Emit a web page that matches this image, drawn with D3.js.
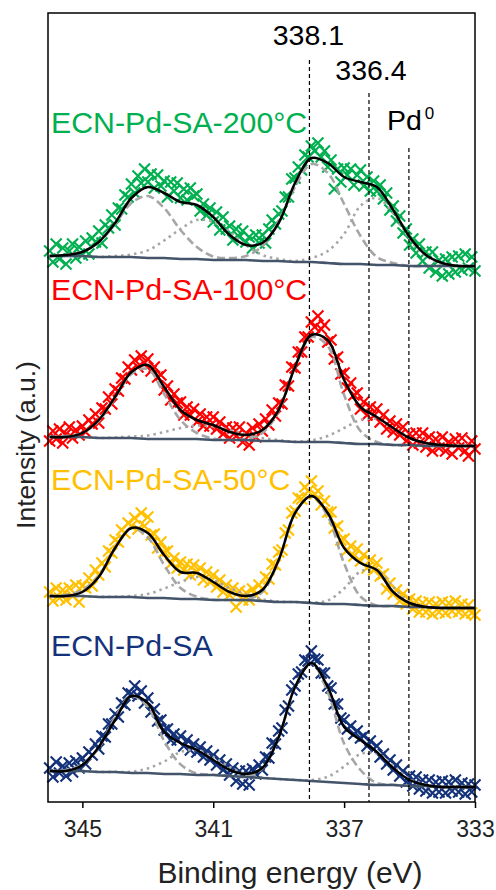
<!DOCTYPE html>
<html>
<head>
<meta charset="utf-8">
<script src="https://cdn.jsdelivr.net/npm/d3@7"></script>
<style>
body { margin: 0; background: #fff; }
text { font-family: "Liberation Sans", Arial, sans-serif; }
</style>
</head>
<body>
<script>
// sample names, top to bottom
var samples = ["ECN-Pd-SA-200°C", "ECN-Pd-SA-100°C", "ECN-Pd-SA-50°C", "ECN-Pd-SA"];

// raw spectra are sampled every 0.1 eV from 346 down to 333 eV
var rawStart = 346, rawStep = 0.1, rawCount = 131;

// energies (eV) of the fitted curves
var fitEnergy = [346, 345.5, 345, 344.5, 344, 343.5, 343, 342.5, 342, 341.5, 341, 340.5, 340,
                 339.5, 339, 338.5, 338, 337.5, 337, 336.5, 336, 335.5, 335, 334.5, 334, 333.5, 333];

// reference lines (eV) and their labels
var refEnergy = [338.06, 336.24, 335.02];
var refLabel = ["338.1", "336.4", "Pd"];

var xTicks = [345, 341, 337, 333];

// raw counts (a.u., stacked with offsets)
var raw200 = [551,540,558,543,554, 538,551,558,544,555, 547,561,548,564,560, 571,559,577,574,587,
  577,594,593,607,605, 618,609,626,619,633, 620,628,614,627,616, 621,605,620,611,619,
  604,613,602,614,606, 608,591,598,587,594, 580,590,572,585,573, 576,562,573,565,571,
  560,565,554,567,559, 567,559,573,582,578, 588,591,605,605,623, 624,635,632,647,645,
  656,651,659,645,651, 635,642,613,633,620, 634,627,633,617,627, 632,616,625,611,621,
  611,617,603,609,592, 596,581,586,569,573, 557,563,549,558,541, 550,534,550,530,542,
  526,543,528,545,530, 546,532,548,534,545, 531];
var raw100 = [361,371,363,373,359, 368,375,364,372,367, 376,370,382,378,388, 379,394,393,405,398,
  413,411,424,423,435, 432,442,435,446,439, 443,431,435,425,427, 412,416,402,408,399,
  400,387,395,387,393, 380,388,376,385,376, 385,373,380,368,375, 364,374,366,375,360,
  369,357,374,365,378, 371,383,377,392,386, 399,398,417,416,435, 434,450,450,465,465,
  480,475,486,473,477, 460,462,443,445,428, 429,414,419,407,409, 393,400,387,395,386,
  393,380,387,373,381, 370,378,367,375,361, 368,357,369,359,369, 355,365,351,363,354,
  365,351,360,348,363, 354,364,351,346,361, 353];
var raw50 = [210,201,214,204,212, 202,214,206,217,200, 216,214,224,216,232, 227,239,235,251,249,
  262,260,272,269,279, 276,284,273,289,276, 285,267,268,254,260, 250,251,238,244,234,
  240,232,238,227,237, 230,234,222,230,220, 227,215,222,210,217, 207,214,195,211,202,
  209,202,213,207,217, 213,225,223,238,237, 250,252,269,272,289, 291,304,303,315,311,
  321,308,311,297,301, 290,290,274,276,262, 263,252,256,246,253, 241,247,234,242,232,
  239,226,228,213,219, 208,212,201,208,198, 203,193,201,190,199, 190,200,188,198,190,
  200,189,199,191,201, 190,198,188,197,189, 187];
var rawSA = [34,25,40,29,36, 26,39,30,41,34, 44,38,50,47,58, 53,66,65,78,78,
  88,85,99,97,109, 108,116,106,111,99, 104,90,93,81,82, 72,73,62,68,62,
  66,56,62,52,58, 50,55,45,51,42, 47,37,42,32,38, 27,34,21,31,18,
  31,17,33,28,37, 32,45,44,59,58, 71,74,92,96,112, 116,128,130,142,141,
  151,143,142,129,129, 116,114,98,98,84, 82,73,76,68,71, 64,66,56,61,53,
  56,45,48,38,42, 32,37,26,31,20, 26,16,25,13,22, 11,22,9,20,10,
  21,9,20,11,22, 10,19,8,18,10, 17];

// fitted envelopes
var fit200 = [546,547,550,560,579,604,615,609,600,597,585,567,557,559,579,619,644,639,625,620,615,592,565,547,539,536,536];
var fit100 = [365,365,369,382,405,430,437,415,392,382,377,370,367,372,392,435,467,462,422,395,385,374,364,359,357,356,356];
var fit50  = [206,206,210,225,254,274,269,247,230,229,220,210,206,212,242,289,306,289,254,239,232,210,199,195,194,194,194];
var fitSA  = [31,31,37,55,82,106,99,70,59,52,42,32,28,34,65,115,139,115,75,62,50,34,22,17,15,15,15];

// backgrounds
var bg200 = [546,546,546,545,545,545,544,544,543,543,542,542,542,541,541,540,540,539,538,538,537,537,536,536,536,536,536];
var bg100 = [365,365,365,364,364,364,363,363,363,363,362,362,362,361,361,360,360,360,359,358,358,357,357,356,356,356,356];
var bg50  = [206,206,206,205,205,205,204,204,203,203,202,202,202,201,200,200,199,198,198,197,196,196,195,195,194,194,194];
var bgSA  = [31,31,31,30,30,29,29,28,28,27,27,26,25,24,23,22,21,20,19,18,17,17,16,16,15,15,15];

// Pd2+ doublet (dashed) above background
var dash200 = [0,1,4.5,14.5,33,54,62,50,29,12,3.4,2,4,15,40,75,98,90,60,28,8,2,0,0,0,0,0];
var dash100 = [0,1,4,17,40,64,70,45,19,6,1.5,0,1,8,30,75,105,96,48,13,2,0,0,0,0,0,0];
var dash50  = [0,1,6,21,49,69,60.5,33,11,2.3,0.3,0,0.5,9,41.6,89,107,87.5,40.6,8.5,0.5,0,0,0,0,0,0];
var dashSA  = [0,1,6.5,24,54.6,77,66,33,9.6,1.6,0.2,0,0.3,9.5,41.5,93,118,89.7,39.5,14,2,0.3,0,0,0,0,0];

// second doublet (dotted) above background
var dot200 = [0,0,0,0,1,2.5,7.6,17.5,30,39,38,28,15,6,2,1,4,12,30,58,67,52,27,10,2,0,0];
var dot100 = [0,0,0,0,0.5,1.5,3.5,7,11,13.5,13.5,10,6,3,1,0.5,1.6,6,15,24,25,17,7.6,2,0.5,0,0];
var dot50  = [0,0,0,0.2,0.3,1,4,9.5,17,22,20,12,5.7,1.8,0.4,0,0.4,3.5,15.4,33.5,36,19,5,0.6,0,0,0];
var dotSA  = [0,0,0,0,0.2,1.2,4.6,12.5,22,25,18,9,2.7,0.5,0,0.2,1,5.3,16.5,30,31.6,19.4,7,1.5,0.2,0,0];

var spectra = [
  {name: samples[0], raw: raw200, fit: fit200, bg: bg200, dash: dash200, dot: dot200},
  {name: samples[1], raw: raw100, fit: fit100, bg: bg100, dash: dash100, dot: dot100},
  {name: samples[2], raw: raw50,  fit: fit50,  bg: bg50,  dash: dash50,  dot: dot50},
  {name: samples[3], raw: rawSA,  fit: fitSA,  bg: bgSA,  dash: dashSA,  dot: dotSA}
];

// colours and label positions
var colors = ["#00B050", "#FF0000", "#FFC000", "#13327A"];
var labelY = [133, 300, 490, 656];

var width = 496, height = 890;
var plotLeft = 48, plotRight = 475, plotTop = 13, plotBottom = 802;

var svg = d3.select("body").append("svg")
    .attr("width", width)
    .attr("height", height);

var x = d3.scaleLinear().domain([346.05, 333]).range([plotLeft, plotRight]);
var y = d3.scaleLinear().domain([0, 789]).range([plotBottom, plotTop]);

var rawEnergy = d3.range(rawCount).map(function(i) { return +(rawStart - i * rawStep).toFixed(1); });

var line = d3.line()
    .x(function(d) { return x(d[0]); })
    .y(function(d) { return y(d[1]); })
    .curve(d3.curveCatmullRom.alpha(0.5));

var cross = "M-5.5,-5.5L5.5,5.5M-5.5,5.5L5.5,-5.5";

spectra.forEach(function(s, i) {
    var g = svg.append("g");

    // raw points
    g.selectAll(".pt")
        .data(s.raw)
        .enter().append("path")
        .attr("class", "pt")
        .attr("d", cross)
        .attr("transform", function(d, j) { return "translate(" + x(rawEnergy[j]) + "," + y(d) + ")"; })
        .attr("fill", "none")
        .attr("stroke", colors[i])
        .attr("stroke-width", 2.1);

    // components sit on top of the background
    var dotPts = fitEnergy.map(function(e, j) { return [e, s.bg[j] + s.dot[j]]; });
    var dashPts = fitEnergy.map(function(e, j) { return [e, s.bg[j] + s.dash[j]]; });

    g.append("path")
        .attr("d", line(dotPts))
        .attr("fill", "none")
        .attr("stroke", "#A6A6A6")
        .attr("stroke-width", 2.6)
        .attr("stroke-dasharray", "2.5,4");

    g.append("path")
        .attr("d", line(dashPts))
        .attr("fill", "none")
        .attr("stroke", "#A6A6A6")
        .attr("stroke-width", 2.6)
        .attr("stroke-dasharray", "8,4");

    g.append("path")
        .attr("d", line(fitEnergy.map(function(e, j) { return [e, s.bg[j]]; })))
        .attr("fill", "none")
        .attr("stroke", "#44546A")
        .attr("stroke-width", 2.6);

    g.append("path")
        .attr("d", line(fitEnergy.map(function(e, j) { return [e, s.fit[j]]; })))
        .attr("fill", "none")
        .attr("stroke", "#000")
        .attr("stroke-width", 2.5);

    svg.append("text")
        .attr("x", 51)
        .attr("y", labelY[i])
        .attr("font-size", "30.3px")
        .attr("fill", colors[i])
        .text(s.name);
});

// reference lines with labels
var refTop = [60, 93, 148];
var refTextY = [45, 80, 130];

refEnergy.forEach(function(e, i) {
    svg.append("line")
        .attr("x1", x(e)).attr("x2", x(e))
        .attr("y1", refTop[i]).attr("y2", plotBottom)
        .attr("stroke", "#000")
        .attr("stroke-width", 1.2)
        .attr("stroke-dasharray", "4,3");
});

svg.append("text")
    .attr("x", x(refEnergy[0]) - 1).attr("y", refTextY[0])
    .attr("text-anchor", "middle")
    .attr("font-size", "28.5px")
    .text(refLabel[0]);

svg.append("text")
    .attr("x", x(refEnergy[1]) + 2).attr("y", refTextY[1])
    .attr("text-anchor", "middle")
    .attr("font-size", "28.5px")
    .text(refLabel[1]);

var pd = svg.append("text")
    .attr("x", x(refEnergy[2]) - 22).attr("y", refTextY[2])
    .attr("font-size", "28.5px")
    .text(refLabel[2]);
pd.append("tspan")
    .attr("dy", -11)
    .attr("dx", 3)
    .attr("font-size", "17px")
    .text("0");

// x axis
var xAxis = svg.append("g")
    .attr("transform", "translate(0," + plotBottom + ")")
    .call(d3.axisBottom(x).tickValues(xTicks).tickSize(6).tickPadding(13).tickFormat(d3.format("d")));
xAxis.select(".domain").remove();
xAxis.selectAll("line").attr("stroke", "#000").attr("stroke-width", 1.5);
xAxis.selectAll("text")
    .attr("font-size", "23px")
    .attr("font-family", "Liberation Sans, Arial, sans-serif")
    .attr("fill", "#222");

// frame
svg.append("rect")
    .attr("x", plotLeft).attr("y", plotTop)
    .attr("width", plotRight - plotLeft).attr("height", plotBottom - plotTop)
    .attr("fill", "none")
    .attr("stroke", "#000")
    .attr("stroke-width", 1.5);

// axis titles
svg.append("text")
    .attr("x", 290).attr("y", 883)
    .attr("text-anchor", "middle")
    .attr("font-size", "30px")
    .attr("fill", "#222")
    .text("Binding energy (eV)");

svg.append("text")
    .attr("transform", "translate(35,445) rotate(-90)")
    .attr("text-anchor", "middle")
    .attr("font-size", "26.5px")
    .attr("fill", "#222")
    .text("Intensity (a.u.)");
</script>
</body>
</html>
